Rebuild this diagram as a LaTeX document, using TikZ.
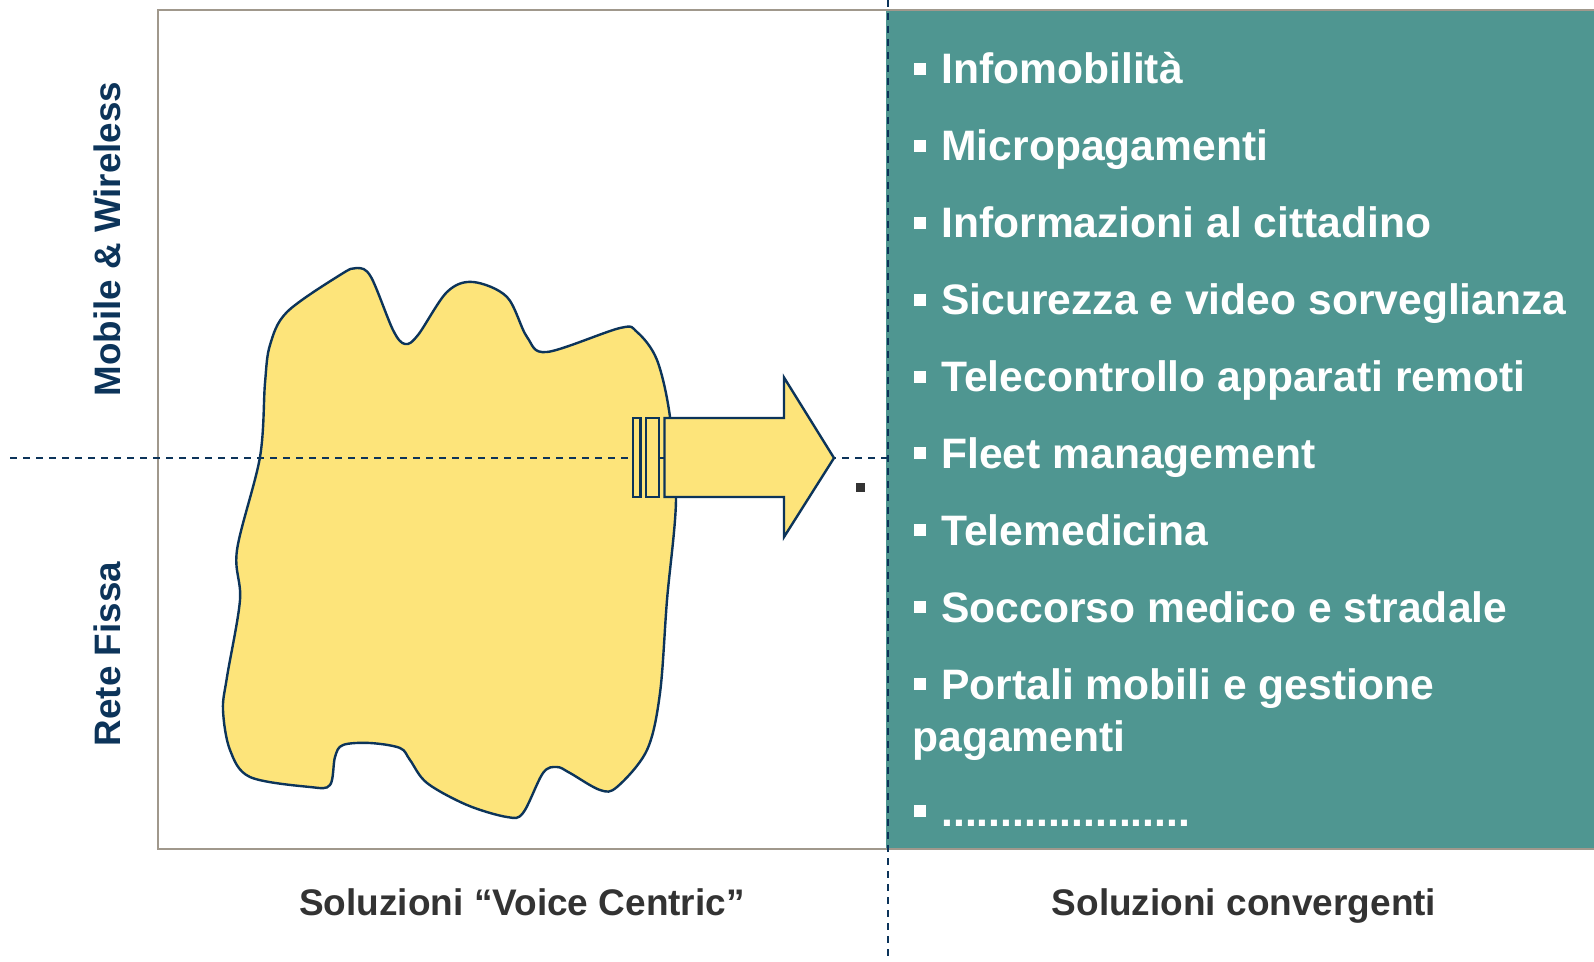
\documentclass[tikz,border=0pt]{standalone}
\usepackage{fontspec}
\setmainfont{Liberation Sans}
\definecolor{tealbg}{RGB}{79,150,145}
\definecolor{blobyellow}{RGB}{253,228,122}
\definecolor{navy}{RGB}{12,52,90}
\definecolor{framegray}{RGB}{160,152,140}
\definecolor{labelgray}{RGB}{51,51,51}
\newcommand{\bsq}{\textcolor{white}{\rule[4.6pt]{6pt}{6pt}}\hspace{7.5pt}}
\tikzset{
  item/.style={anchor=base west, inner sep=0pt, text=white, font=\bfseries\fontsize{21.3}{26}\selectfont, align=left},
  sidelabel/.style={rotate=90, inner sep=0pt, text=navy, font=\bfseries\fontsize{18.4}{22}\selectfont},
  bottomlabel/.style={anchor=base, inner sep=0pt, text=labelgray, font=\bfseries\fontsize{18.5}{22}\selectfont},
  dashline/.style={draw=navy, line width=0.9pt, dash pattern=on 3.5pt off 3pt},
  shapeline/.style={draw=navy, line width=1.2pt, fill=blobyellow, line join=miter},
}
\begin{document}
\begin{tikzpicture}[x=0.5pt,y=-0.5pt]
\useasboundingbox (0,0) rectangle (1594,962);
% frame
\fill[white] (158,10) rectangle (1594,849);
\fill[tealbg] (886,11) rectangle (1594,848);
\draw[framegray, line width=1.1pt] (1600,10) -- (158,10) -- (158,849) -- (1600,849);
% blob
\draw[shapeline] plot[smooth cycle, tension=0.55] coordinates {
(270,345) (287,312) (340,275) (357,268) (371,277) (393,330) (405,344) (418,335) (447,292) (473,282) (507,297) (527,337) (547,352) (620,328) (637,332) (657,360) (670,417) (676,500) (667,600) (660,693) (647,750) (617,787) (600,790) (570,773) (557,767) (543,773) (523,813) (507,817) (467,805) (427,783) (410,760) (400,748) (370,743) (343,745) (335,757) (330,785) (310,787) (250,777) (230,750) (223,710) (227,677) (240,600) (237,550) (260,457) (265,383)};
% dashed axes
\coordinate (hl) at (10,458);
\coordinate (hr) at (888,458);
\coordinate (vt) at (888,0);
\coordinate (vb) at (888,962);
\draw[dashline] (hl) -- (hr);
\draw[dashline] (vt) -- (vb);
% arrow
\draw[shapeline] (633,418) rectangle (640.5,497);
\draw[shapeline] (646,418) rectangle (659,497);
\draw[shapeline] (664.5,418) -- (784,418) -- (784,377.5) -- (834,458) -- (784,537) -- (784,497) -- (664.5,497) -- cycle;
% stray dot
\fill[labelgray] (856,483) rectangle (865,492);
% items
\node[item] (i1) at (914,84) {\bsq Infomobilità};
\node[item] (i2) at (914,161) {\bsq Micropagamenti};
\node[item] (i3) at (914,238) {\bsq Informazioni al cittadino};
\node[item] (i4) at (914,315) {\bsq Sicurezza e video sorveglianza};
\node[item] (i5) at (914,392) {\bsq Telecontrollo apparati remoti};
\node[item] (i6) at (914,468) {\bsq Fleet management};
\node[item] (i7) at (914,545) {\bsq Telemedicina};
\node[item] (i8) at (914,622) {\bsq Soccorso medico e stradale};
\node[item] (i9) at (914,699) {\bsq Portali mobili e gestione};
\node[item] (i9b) at (912,751) {pagamenti};
\node[item] (i10) at (914,826) {\bsq .....................};
% side labels
\node[sidelabel] (mw) at (107,239) {Mobile \& Wireless};
\node[sidelabel] (rf) at (107,654) {Rete Fissa};
% bottom labels
\node[bottomlabel] (vc) at (522,915) {Soluzioni “Voice Centric”};
\node[bottomlabel] (sc) at (1244,915) {Soluzioni convergenti};
\end{tikzpicture}
\end{document}
